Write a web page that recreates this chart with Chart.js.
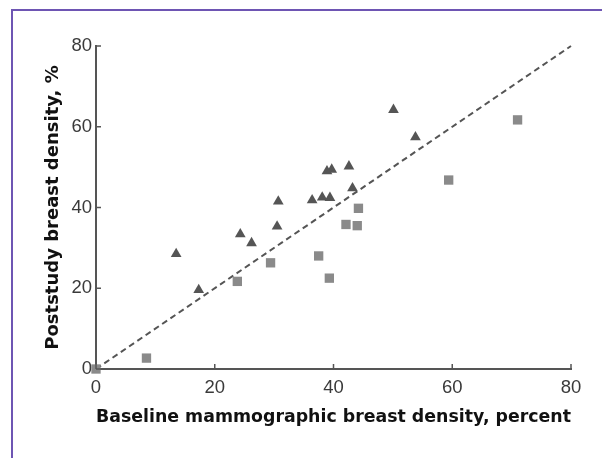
<!DOCTYPE html>
<html>
<head>
<meta charset="utf-8">
<script src="https://cdn.jsdelivr.net/npm/chart.js@4"></script>
<style>
  html, body { margin: 0; padding: 0; background: #fff; }
  #wrap { position: relative; width: 602px; height: 458px; overflow: hidden; }
  #frame { position: absolute; left: 11px; top: 9px; width: 700px; height: 600px;
           border-top: 2px solid #6e55b3; border-left: 2px solid #6e55b3; }
  canvas { position: absolute; left: 0; top: 0; }
</style>
</head>
<body>
<div id="wrap">
  <div id="frame"></div>
  <canvas id="c" width="602" height="458"></canvas>
</div>
<script>
// Data
const triangleX = [13.5, 17.3, 24.3, 26.2, 30.7, 30.5, 36.4, 38.1, 39.4, 38.9, 39.7, 42.6, 43.2, 50.1, 53.8];
const triangleY = [28.5, 19.6, 33.4, 31.2, 41.5, 35.3, 41.8, 42.5, 42.4, 49.0, 49.4, 50.2, 44.8, 64.2, 57.4];
const squareX = [0, 8.5, 23.8, 29.4, 37.5, 39.3, 42.1, 44.0, 44.2, 59.4, 71.0];
const squareY = [0, 2.7, 21.7, 26.3, 28.0, 22.5, 35.8, 35.5, 39.8, 46.8, 61.7];
const identityLine = [0, 80];
const tickValues = [0, 20, 40, 60, 80];
const xTitle = 'Baseline mammographic breast density, percent';
const yTitle = 'Poststudy breast density, %';

const toPts = (xs, ys) => xs.map((x, i) => ({ x: x, y: ys[i] }));

const inwardTicks = {
  id: 'inwardTicks',
  afterDatasetsDraw(chart) {
    const { ctx } = chart;
    const xs = chart.scales.x, ys = chart.scales.y;
    ctx.save();
    ctx.strokeStyle = '#555';
    ctx.lineWidth = 1.5;
    ctx.beginPath();
    tickValues.forEach(v => {
      const px = xs.getPixelForValue(v);
      ctx.moveTo(px, ys.bottom); ctx.lineTo(px, ys.bottom - 5);
      const py = ys.getPixelForValue(v);
      ctx.moveTo(xs.left, py); ctx.lineTo(xs.left + 5, py);
    });
    ctx.stroke();
    ctx.restore();
  }
};

new Chart(document.getElementById('c'), {
  type: 'scatter',
  data: {
    datasets: [
      {
        type: 'line',
        data: toPts(identityLine, identityLine),
        borderColor: '#555',
        borderWidth: 2,
        borderDash: [6, 4],
        pointRadius: 0,
        fill: false,
        order: 3
      },
      {
        data: toPts(squareX, squareY),
        pointStyle: 'rect',
        pointRadius: 6.6,
        backgroundColor: '#8a8a8a',
        borderColor: '#8a8a8a',
        borderWidth: 0,
        order: 2
      },
      {
        data: toPts(triangleX, triangleY),
        pointStyle: 'triangle',
        pointRadius: 6.2,
        backgroundColor: '#555',
        borderColor: '#555',
        borderWidth: 0,
        order: 1
      }
    ]
  },
  plugins: [inwardTicks],
  options: {
    responsive: false,
    animation: false,
    clip: false,
    layout: { padding: { left: 0, right: 31, top: 46, bottom: 0 } },
    plugins: { legend: { display: false }, tooltip: { enabled: false } },
    scales: {
      x: {
        type: 'linear', min: 0, max: 80,
        afterBuildTicks: s => { s.ticks = tickValues.map(v => ({ value: v })); },
        afterFit: s => { s.height = 89; },
        grid: { display: false, drawTicks: false },
        border: { display: true, color: '#555', width: 2 },
        ticks: { color: '#3a3a3a', padding: 8, font: { family: 'Liberation Sans', size: 18.5 } },
        title: { display: true, text: xTitle, color: '#111',
                 font: { family: 'DejaVu Sans', size: 17.6, weight: 'bold' },
                 padding: { top: 0, bottom: 30 } }
      },
      y: {
        type: 'linear', min: 0, max: 80,
        afterBuildTicks: s => { s.ticks = tickValues.map(v => ({ value: v })); },
        afterFit: s => { s.width = 96; },
        grid: { display: false, drawTicks: false },
        border: { display: true, color: '#555', width: 2 },
        ticks: { color: '#3a3a3a', padding: 4, font: { family: 'Liberation Sans', size: 18.5 } },
        title: { display: true, text: yTitle, color: '#111',
                 font: { family: 'DejaVu Sans', size: 18, weight: 'bold' },
                 padding: { top: 43, bottom: 0 } }
      }
    }
  }
});
</script>
</body>
</html>
